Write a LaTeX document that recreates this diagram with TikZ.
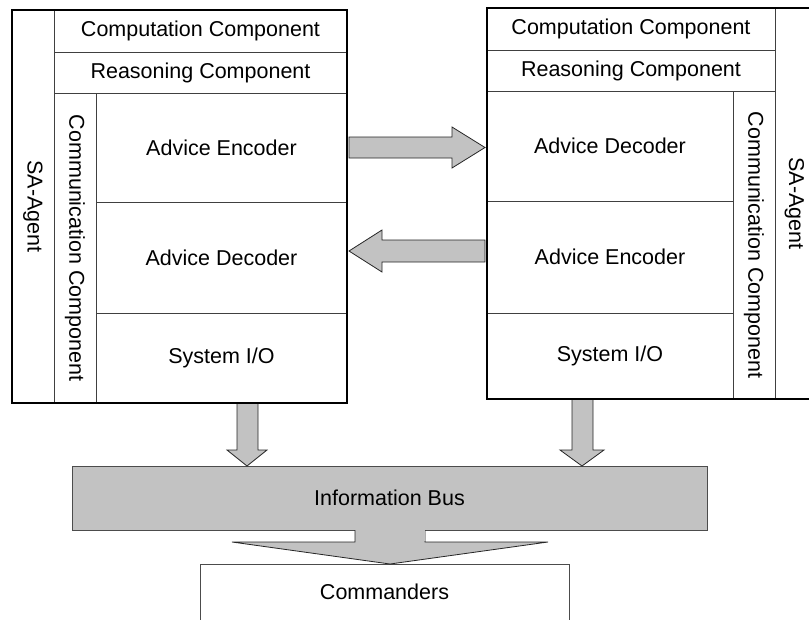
\documentclass[tikz,border=0pt]{standalone}
\usepackage{fontspec}
\setmainfont{Liberation Sans}
\begin{document}
\begin{tikzpicture}[x=1pt,y=-1pt,
  inner/.style={draw=black!75,line width=0.7pt},
  outer/.style={draw=black,line width=2.4pt,line join=miter},
  lbl/.style={font=\fontsize{21.5}{25}\selectfont,inner sep=0pt},
  vlbl/.style={lbl,rotate=-90},
  blockarrow/.style={draw=black!85,line width=0.8pt,fill=black!24,line join=miter},
]
\useasboundingbox (0,0) rectangle (809,619);
\newcommand\cellbox[7]{%
  \draw[inner] (#2,#3) rectangle (#4,#5);
  \node[#7] (#1) at ({(#2+#4)/2},{(#3+#5)/2}) {#6};}

% ---------- left agent ----------
\cellbox{lsa}{12}{10}{54}{403}{SA-Agent}{vlbl}
\cellbox{lcomp}{54}{10}{347}{52}{Computation Component}{lbl}
\cellbox{lreas}{54}{52}{347}{93}{Reasoning Component}{lbl}
\cellbox{lcomm}{54}{93}{96}{403}{Communication Component}{vlbl}
\cellbox{lenc}{96}{93}{347}{202}{Advice Encoder}{lbl}
\cellbox{ldec}{96}{202}{347}{313}{Advice Decoder}{lbl}
\cellbox{lsys}{96}{313}{347}{403}{System I/O}{lbl}
\draw[outer] (12,10) rectangle (347,403);

% ---------- right agent ----------
\cellbox{rcomp}{487}{8}{775}{50}{Computation Component}{lbl}
\cellbox{rreas}{487}{50}{775}{91}{Reasoning Component}{lbl}
\cellbox{rdec}{487}{91}{733}{201}{Advice Decoder}{lbl}
\cellbox{renc}{487}{201}{733}{313}{Advice Encoder}{lbl}
\cellbox{rsys}{487}{313}{733}{399}{System I/O}{lbl}
\cellbox{rcomm}{733}{91}{775}{399}{Communication Component}{vlbl}
\cellbox{rsa}{775}{8}{814}{399}{SA-Agent}{vlbl}
\draw[outer] (487,8) rectangle (814,399);

% ---------- arrows between agents ----------
\draw[blockarrow] (349,137) -- (452,137) -- (452,127) -- (485,147.5) -- (452,168) -- (452,158) -- (349,158) -- cycle;
\draw[blockarrow] (485,240) -- (382,240) -- (382,230) -- (349,251) -- (382,272) -- (382,262) -- (485,262) -- cycle;

% ---------- information bus ----------
\node[draw=black!70,line width=0.8pt,fill=black!24,minimum width=635pt,minimum height=64pt,inner sep=0pt] (bus) at (389.5,498) {};
\node[lbl] (bustext) at (bus.center) {Information Bus};

% down arrows into bus
\draw[blockarrow] (237,404) -- (237,450) -- (227,450) -- (247,466) -- (267,450) -- (258,450) -- (258,404);
\draw[blockarrow] (572,400) -- (572,450) -- (560,450) -- (582,466) -- (604,450) -- (593,450) -- (593,400);

% commanders
\draw[draw=black!70,line width=0.8pt] (200,625) -- (200,564) -- (569,564) -- (569,625);
\node[lbl] (cmd) at (384.5,592) {Commanders};

% wide arrow bus -> commanders
\fill[black!24] (355,529) rectangle (425,542);
\draw[blockarrow] (355,530) -- (355,542) -- (232,542) -- (390,564) -- (548,542) -- (425,542) -- (425,530);
\fill[black!24] (355.5,529) rectangle (424.5,541);
\end{tikzpicture}
\end{document}
